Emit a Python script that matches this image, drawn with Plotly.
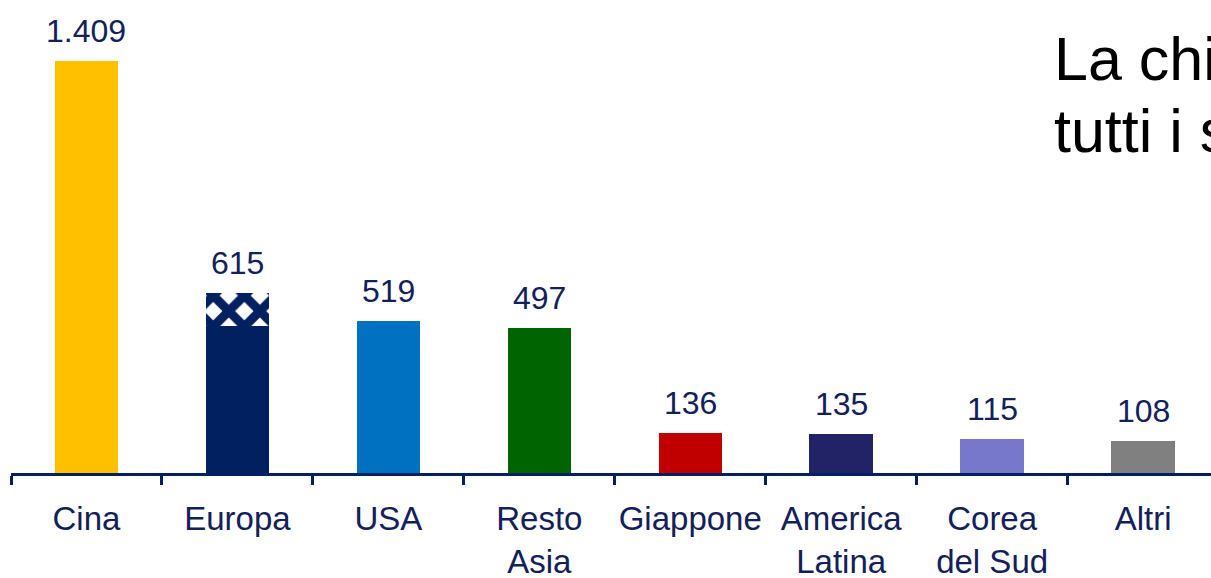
import plotly.graph_objects as go

# Data
categories = ["Cina", "Europa", "USA", "Resto<br>Asia", "Giappone",
              "America<br>Latina", "Corea<br>del Sud", "Altri"]
values = [1409, 615, 519, 497, 136, 135, 115, 108]
colors = ["#FFC000", "#002060", "#0070C0", "#006400", "#C00000",
          "#222266", "#7777CC", "#808080"]
europa_pattern_part = 113  # checkered top segment of the Europa bar

NAVY = "#002060"
LABEL = "#13205a"
FONT = "Liberation Sans, Arial, sans-serif"

solid_values = [v - europa_pattern_part if c == "Europa" else v
                for c, v in zip(categories, values)]
europa_idx = categories.index("Europa")

fig = go.Figure()
fig.add_trace(go.Bar(
    x=categories, y=solid_values, width=0.42,
    marker=dict(color=colors, line=dict(width=0)),
    hoverinfo="skip", showlegend=False,
))
fig.add_trace(go.Bar(
    x=[categories[europa_idx]], y=[europa_pattern_part],
    base=[solid_values[europa_idx]], width=0.42,
    marker=dict(color=NAVY, line=dict(width=0),
                pattern=dict(shape="x", size=22, solidity=0.65,
                             fgcolor=NAVY, bgcolor="white", fgopacity=1)),
    hoverinfo="skip", showlegend=False,
))

def fmt(v):
    return f"{v:,}".replace(",", ".")

annotations = []
for c, v in zip(categories, values):
    annotations.append(dict(
        x=c, y=v, xref="x", yref="y", text=fmt(v), showarrow=False,
        yanchor="bottom", yshift=10,
        font=dict(family=FONT, size=32, color=LABEL),
    ))

annotations.append(dict(
    x=0.8675, y=0.876, xref="paper", yref="paper", text="La chi",
    showarrow=False, xanchor="left", yanchor="middle",
    font=dict(family=FONT, size=61, color="black"),
))
annotations.append(dict(
    x=0.8675, y=0.722, xref="paper", yref="paper", text="tutti i s",
    showarrow=False, xanchor="left", yanchor="middle",
    font=dict(family=FONT, size=61, color="black"),
))

fig.update_layout(
    width=1211, height=578,
    margin=dict(l=11, r=0, t=0, b=105),
    plot_bgcolor="white", paper_bgcolor="white",
    barmode="overlay", bargap=0,
    annotations=annotations,
    xaxis=dict(
        type="category", range=[-0.5, 7.45],
        showline=True, linecolor=NAVY, linewidth=3,
        ticks="outside", tickson="boundaries", ticklen=9, tickwidth=3,
        tickcolor=NAVY, showgrid=False, automargin=False, tickangle=0,
        ticklabelstandoff=14,
        tickfont=dict(family=FONT, size=33, color=LABEL),
    ),
    yaxis=dict(visible=False, range=[0, 1617.6], showgrid=False, zeroline=False),
)

fig.write_html(
    "out.html",
    config={"displayModeBar": False},
    post_script="document.body.style.margin='0';document.body.style.overflow='hidden';",
)
